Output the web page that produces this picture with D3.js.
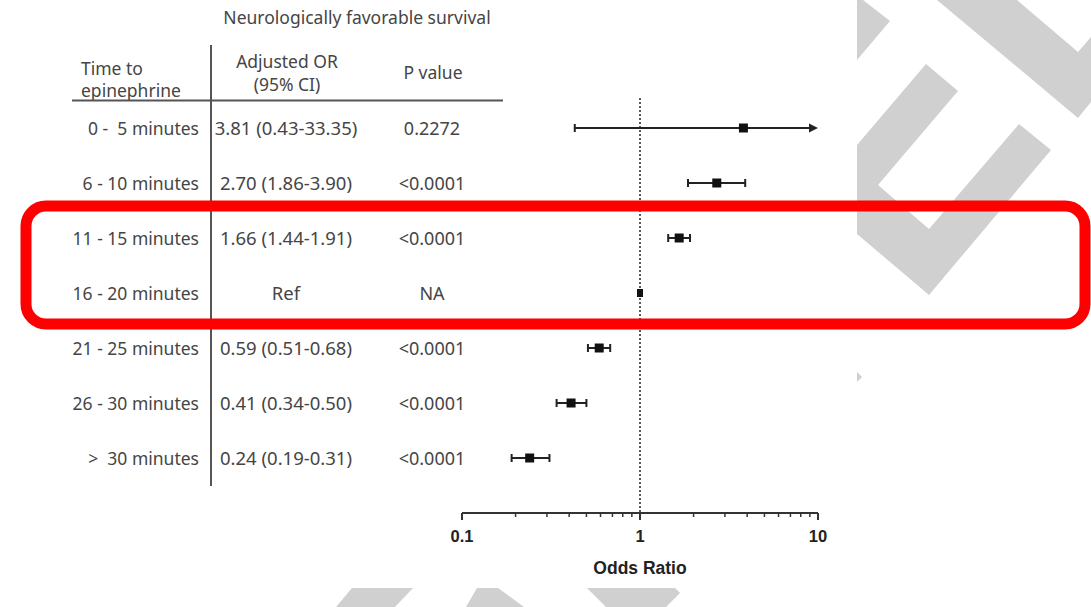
<!DOCTYPE html>
<html><head><meta charset="utf-8">
<script src="https://cdn.jsdelivr.net/npm/d3@7"></script>
<style>html,body{margin:0;padding:0;background:#fff}svg{display:block}</style>
</head><body>
<svg id="c" width="1091" height="607"></svg>
<script>
// ---- data ----
const categories = ["0 -  5 minutes","6 - 10 minutes","11 - 15 minutes","16 - 20 minutes","21 - 25 minutes","26 - 30 minutes",">  30 minutes"];
const orText = ["3.81 (0.43-33.35)","2.70 (1.86-3.90)","1.66 (1.44-1.91)","Ref","0.59 (0.51-0.68)","0.41 (0.34-0.50)","0.24 (0.19-0.31)"];
const pText = ["0.2272","<0.0001","<0.0001","NA","<0.0001","<0.0001","<0.0001"];
const orValue = [3.81,2.70,1.66,1.00,0.59,0.41,0.24];
const ciLow = [0.43,1.86,1.44,null,0.51,0.34,0.19];
const ciHigh = [33.35,3.90,1.91,null,0.68,0.50,0.31];
const axisTicks = [0.1,1,10];

const svg = d3.select("#c");
const textFont = "'Noto Sans', 'DejaVu Sans', sans-serif";
const textCol = "#454545";

// watermark (decoration)
const wm = [
  [[857,0],[863,0],[890,21],[857,60]],
  [[937,0],[1017,0],[1078,52],[1091,37],[1091,102],[1078,118]],
  [[857,145],[926,64],[958,91],[878,185],[929,229],[1019,124],[1051,150],[929,295],[857,234]],
  [[857,372],[862,377],[857,382]],
  [[352,588],[413,588],[395,607],[336,607]],
  [[477,588],[498,588],[524,607],[466,607]],
  [[587,588],[675,588],[680,593],[666,607],[606,607]]
];
svg.append("g").selectAll("polygon").data(wm).join("polygon")
  .attr("points", d => d.map(p => p.join(",")).join(" "))
  .attr("fill", "#d0d0d0");

// scales
const x = d3.scaleLog().domain([0.1, 10]).range([462, 818]);
const y = d3.scaleBand().domain(categories).range([100.5, 485.5]);
const yc = c => y(c) + y.bandwidth() / 2;

// title & headers
svg.append("text").attr("x", 357).attr("y", 24).attr("text-anchor","middle")
  .style("font-family", textFont).style("font-size","17.5px").attr("fill", textCol)
  .text("Neurologically favorable survival");
const hdr = [
  {t:"Time to", x:81, y:75, a:"start"},
  {t:"epinephrine", x:81, y:97, a:"start"},
  {t:"Adjusted OR", x:287, y:68, a:"middle"},
  {t:"(95% CI)", x:287, y:91, a:"middle"},
  {t:"P value", x:433, y:79, a:"middle"}
];
svg.append("g").selectAll("text").data(hdr).join("text")
  .attr("x", d=>d.x).attr("y", d=>d.y).attr("text-anchor", d=>d.a)
  .style("font-family", textFont).style("font-size","17.5px").attr("fill", textCol)
  .text(d=>d.t);

// table lines
svg.append("line").attr("x1",211).attr("x2",211).attr("y1",45).attr("y2",486)
  .attr("stroke","#555").attr("stroke-width",2);
svg.append("line").attr("x1",72).attr("x2",503).attr("y1",100.5).attr("y2",100.5)
  .attr("stroke","#555").attr("stroke-width",2);

// rows
const rows = svg.append("g");
rows.selectAll("text.lab").data(categories).join("text").attr("class","lab")
  .attr("x", 199).attr("y", d => yc(d) + 7).attr("text-anchor","end")
  .style("font-family", textFont).style("font-size","17.5px").attr("fill", textCol)
  .style("white-space","pre").text(d=>d);
rows.selectAll("text.or").data(orText).join("text").attr("class","or")
  .attr("x", 286).attr("y", (d,i) => yc(categories[i]) + 7).attr("text-anchor","middle")
  .style("font-family", textFont).style("font-size","18.5px").attr("fill", textCol)
  .text(d=>d);
rows.selectAll("text.p").data(pText).join("text").attr("class","p")
  .attr("x", 432).attr("y", (d,i) => yc(categories[i]) + 7).attr("text-anchor","middle")
  .style("font-family", textFont).style("font-size","18px").attr("fill", textCol)
  .text(d=>d);

// reference line
svg.append("line").attr("x1", x(1)).attr("x2", x(1)).attr("y1", 98).attr("y2", 513)
  .attr("stroke","#222").attr("stroke-width",1.5).attr("stroke-dasharray","2,2");

// axis
const axisG = svg.append("g").attr("transform","translate(0,513)");
const minor = [];
[0.1,1].forEach(b => { for (let k=2;k<=9;k++) minor.push(b*k); });
axisG.append("line").attr("x1", x(0.1)).attr("x2", x(10)).attr("stroke","#333").attr("stroke-width",2);
axisG.selectAll("line.mi").data(minor).join("line").attr("class","mi")
  .attr("x1", d=>x(d)).attr("x2", d=>x(d)).attr("y1",0).attr("y2",4)
  .attr("stroke","#333").attr("stroke-width",1.5);
axisG.selectAll("line.ma").data(axisTicks).join("line").attr("class","ma")
  .attr("x1", d=>x(d)).attr("x2", d=>x(d)).attr("y1",0).attr("y2",7)
  .attr("stroke","#333").attr("stroke-width",2);
axisG.selectAll("text").data(axisTicks).join("text")
  .attr("x", d=>x(d)).attr("y", 29).attr("text-anchor","middle")
  .style("font-family","'Liberation Sans', Arial, sans-serif").style("font-weight","bold")
  .style("font-size","16.5px").attr("fill","#222").text(d=>String(d));
svg.append("text").attr("x", x(1)).attr("y", 574).attr("text-anchor","middle")
  .style("font-family","'Liberation Sans', Arial, sans-serif").style("font-weight","bold")
  .style("font-size","17.5px").attr("fill","#222").text("Odds Ratio");

// error bars
const idx = d3.range(categories.length).filter(i => ciLow[i] != null);
const eb = svg.append("g").attr("stroke","#222").attr("stroke-width",2);
eb.selectAll("line.ci").data(idx).join("line").attr("class","ci")
  .attr("x1", i => x(ciLow[i])).attr("x2", i => x(Math.min(ciHigh[i], 10)) - (ciHigh[i] > 10 ? 6 : 0))
  .attr("y1", i => yc(categories[i])).attr("y2", i => yc(categories[i]));
eb.selectAll("line.capl").data(idx).join("line").attr("class","capl")
  .attr("x1", i => x(ciLow[i])).attr("x2", i => x(ciLow[i]))
  .attr("y1", i => yc(categories[i]) - 4).attr("y2", i => yc(categories[i]) + 4);
eb.selectAll("line.caph").data(idx.filter(i => ciHigh[i] <= 10)).join("line").attr("class","caph")
  .attr("x1", i => x(ciHigh[i])).attr("x2", i => x(ciHigh[i]))
  .attr("y1", i => yc(categories[i]) - 4).attr("y2", i => yc(categories[i]) + 4);
// arrows for truncated CIs
svg.append("g").selectAll("path").data(idx.filter(i => ciHigh[i] > 10)).join("path")
  .attr("d", i => { const xe = x(10), yy = yc(categories[i]); return `M${xe},${yy} L${xe-9},${yy-4.5} L${xe-9},${yy+4.5} Z`; })
  .attr("fill","#222");

// points
svg.append("g").selectAll("rect").data(orValue).join("rect")
  .attr("x", (d,i) => x(d) - (ciLow[i]==null?3:4.5))
  .attr("y", (d,i) => yc(categories[i]) - (ciLow[i]==null?4:4.5))
  .attr("width", (d,i) => ciLow[i]==null?6:9).attr("height", (d,i)=> ciLow[i]==null?8:9)
  .attr("fill","#111");

// highlight box
svg.append("rect").attr("x", 26).attr("y", 206).attr("width", 1059).attr("height", 118)
  .attr("rx", 20).attr("ry", 20).attr("fill","none").attr("stroke","#ff0000").attr("stroke-width", 11);
</script>
</body></html>
